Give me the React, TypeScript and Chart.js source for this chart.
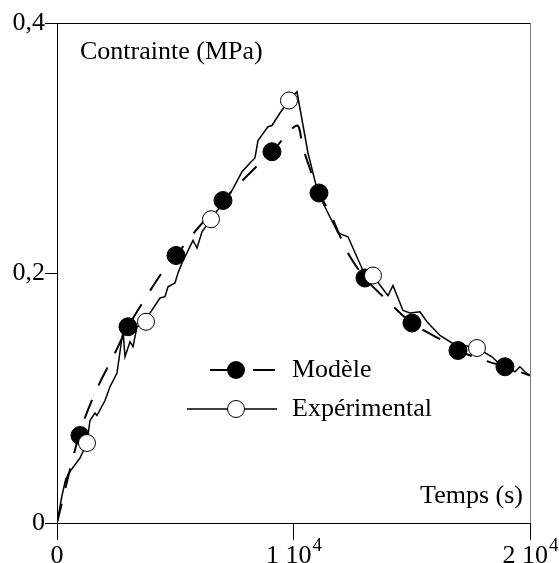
import React, { useEffect, useRef } from "react";
import { Chart, registerables } from "chart.js";

Chart.register(...registerables);

// Model (dashed curve)
const modelX = [0, 930, 1607, 2452, 3002, 4355, 5031, 5961, 7018, 8371, 9090, 10147, 10400, 11077, 11542, 12303, 13022, 13741, 15009, 16489, 16954, 18096, 18941, 20000];
const modelY = [0, 0.070, 0.104, 0.136, 0.157, 0.198, 0.214, 0.236, 0.258, 0.284, 0.297, 0.318, 0.300, 0.264, 0.248, 0.216, 0.196, 0.182, 0.160, 0.144, 0.138, 0.130, 0.125, 0.118];
// Model markers
const modelMarkX = [972, 3002, 5031, 7018, 9090, 11077, 13022, 15009, 16954, 18941];
const modelMarkY = [0.070, 0.157, 0.214, 0.258, 0.297, 0.264, 0.196, 0.160, 0.138, 0.125];

// Experimental (solid jagged curve)
const expX = [0, 211, 380, 320, 460, 972, 1268, 1395, 1607, 1691, 2029, 2241, 2537, 2790, 2875, 3086, 3213, 3382, 3763, 3932, 4355, 4566, 4693, 4989, 5116, 5285, 5750, 5919, 6131, 6511, 6892, 7399, 7822, 8160, 8371, 8498, 8921, 9090, 9428, 9809, 10147, 10612, 11035, 11881, 12303, 12937, 13360, 13868, 13995, 14206, 14629, 14925, 15348, 15644, 16193, 16700, 17758, 18392, 18603, 19364, 19575, 19786, 20000];
const expY = [0, 0.022, 0.036, 0.030, 0.039, 0.052, 0.064, 0.082, 0.088, 0.086, 0.098, 0.109, 0.120, 0.154, 0.133, 0.145, 0.141, 0.157, 0.161, 0.168, 0.180, 0.181, 0.189, 0.192, 0.200, 0.208, 0.226, 0.220, 0.233, 0.243, 0.253, 0.266, 0.281, 0.288, 0.292, 0.306, 0.317, 0.318, 0.328, 0.338, 0.345, 0.296, 0.264, 0.232, 0.229, 0.202, 0.198, 0.185, 0.182, 0.190, 0.170, 0.168, 0.169, 0.161, 0.150, 0.144, 0.140, 0.133, 0.129, 0.121, 0.125, 0.121, 0.118];
// Experimental markers
const expMarkX = [1268, 3763, 6511, 9809, 13360, 17758];
const expMarkY = [0.064, 0.161, 0.243, 0.338, 0.198, 0.140];

const xTickValues = [0, 10000, 20000];
const xTickBase = ["0", "1 10", "2 10"];
const xTickExp = ["", "4", "4"];
const yTickLabels: Record<string, string> = { "0": "0", "0.2": "0,2", "0.4": "0,4" };

const yTitle = "Contrainte (MPa)";
const xTitle = "Temps (s)";
const legendModel = "Modèle";
const legendExp = "Expérimental";

const FONT = "'Liberation Serif', 'Times New Roman', serif";
const FS = 26;

const pts = (xs: number[], ys: number[]) => xs.map((x, i) => ({ x, y: ys[i] }));

const overlay = {
  id: "overlay",
  afterDraw(chart: any) {
    const { ctx, chartArea: a, scales } = chart;
    const xs = scales.x;
    const ys = scales.y;
    ctx.save();
    // frame: top and right
    ctx.lineWidth = 1;
    ctx.strokeStyle = "#000";
    ctx.beginPath();
    ctx.moveTo(a.left, a.top + 0.5);
    ctx.lineTo(a.right, a.top + 0.5);
    ctx.stroke();
    ctx.strokeStyle = "#777";
    ctx.beginPath();
    ctx.moveTo(a.right + 0.5, a.top);
    ctx.lineTo(a.right + 0.5, a.bottom);
    ctx.stroke();

    ctx.fillStyle = "#000";
    ctx.font = `${FS}px ${FONT}`;
    ctx.textBaseline = "alphabetic";
    // titles inside
    ctx.textAlign = "left";
    ctx.fillText(yTitle, a.left + 23, a.top + 36);
    ctx.textAlign = "right";
    ctx.fillText(xTitle, a.right - 7, a.bottom - 20);

    // x tick labels with superscript
    xTickValues.forEach((v, i) => {
      const px = xs.getPixelForValue(v);
      ctx.font = `${FS}px ${FONT}`;
      const wb = ctx.measureText(xTickBase[i]).width;
      ctx.font = `${Math.round(FS * 0.72)}px ${FONT}`;
      const we = xTickExp[i] ? ctx.measureText(xTickExp[i]).width : 0;
      const total = wb + we;
      const start = px - total / 2;
      ctx.textAlign = "left";
      ctx.font = `${FS}px ${FONT}`;
      ctx.fillText(xTickBase[i], start, a.bottom + 40);
      if (xTickExp[i]) {
        ctx.font = `${Math.round(FS * 0.72)}px ${FONT}`;
        ctx.fillText(xTickExp[i], start + wb + 1, a.bottom + 28);
      }
    });

    // legend
    const lx = 292;
    const r1 = 370;
    const r2 = 409;
    ctx.lineWidth = 2;
    ctx.strokeStyle = "#000";
    ctx.beginPath();
    ctx.moveTo(210, r1);
    ctx.lineTo(228, r1);
    ctx.moveTo(253, r1);
    ctx.lineTo(275, r1);
    ctx.stroke();
    ctx.beginPath();
    ctx.arc(236, r1, 9, 0, Math.PI * 2);
    ctx.fillStyle = "#000";
    ctx.fill();
    ctx.lineWidth = 1.5;
    ctx.beginPath();
    ctx.moveTo(187, r2);
    ctx.lineTo(277, r2);
    ctx.stroke();
    ctx.beginPath();
    ctx.arc(236, r2, 8.5, 0, Math.PI * 2);
    ctx.fillStyle = "#fff";
    ctx.fill();
    ctx.lineWidth = 1;
    ctx.stroke();
    ctx.fillStyle = "#000";
    ctx.font = `${FS}px ${FONT}`;
    ctx.textAlign = "left";
    ctx.textBaseline = "middle";
    ctx.fillText(legendModel, lx, r1);
    ctx.fillText(legendExp, lx, r2);
    ctx.restore();
  },
};

export default function App() {
  const ref = useRef<HTMLCanvasElement>(null);
  useEffect(() => {
    if (!ref.current) return;
    const chart = new Chart(ref.current, {
      type: "scatter",
      data: {
        datasets: [
          {
            data: pts(expMarkX, expMarkY),
            showLine: false,
            pointRadius: 8.5,
            pointBackgroundColor: "#fff",
            pointBorderColor: "#000",
            pointBorderWidth: 1,
            order: 0,
          },
          {
            data: pts(modelMarkX, modelMarkY),
            showLine: false,
            pointRadius: 9,
            pointBackgroundColor: "#000",
            pointBorderColor: "#000",
            pointBorderWidth: 1,
            order: 1,
          },
          {
            data: pts(expX, expY),
            showLine: true,
            pointRadius: 0,
            borderColor: "#000",
            borderWidth: 1.5,
            tension: 0,
            order: 2,
          },
          {
            data: pts(modelX, modelY),
            showLine: true,
            pointRadius: 0,
            borderColor: "#000",
            borderWidth: 2,
            borderDash: [20, 16],
            tension: 0.3,
            order: 3,
          },
        ],
      },
      options: {
        responsive: false,
        animation: false,
        events: [],
        layout: { padding: { top: 23, right: 29, left: 0, bottom: 0 } },
        plugins: { legend: { display: false }, tooltip: { enabled: false } },
        scales: {
          x: {
            type: "linear",
            min: 0,
            max: 20000,
            afterFit: (s: any) => {
              s.height = 40;
            },
            afterBuildTicks: (s: any) => {
              s.ticks = xTickValues.map((v) => ({ value: v }));
            },
            ticks: { display: false },
            grid: {
              drawOnChartArea: false,
              drawTicks: true,
              tickLength: 17,
              tickColor: "#000",
              lineWidth: 1,
            },
            border: { display: true, color: "#000", width: 1 },
          },
          y: {
            type: "linear",
            min: 0,
            max: 0.4,
            afterFit: (s: any) => {
              s.width = 57;
            },
            ticks: {
              stepSize: 0.2,
              color: "#000",
              padding: 0,
              font: { family: FONT, size: FS },
              callback: (v: any) => yTickLabels[String(Math.round(Number(v) * 10) / 10)] ?? "",
            },
            grid: {
              drawOnChartArea: false,
              drawTicks: true,
              tickLength: 12,
              tickColor: "#000",
              lineWidth: 1,
            },
            border: { display: true, color: "#000", width: 1 },
          },
        },
      },
      plugins: [overlay],
    });
    return () => chart.destroy();
  }, []);
  return (
    <div style={{ position: "fixed", left: 0, top: 0, width: 559, height: 563, background: "#fff" }}>
      <canvas ref={ref} width={559} height={563} style={{ display: "block" }} />
    </div>
  );
}
